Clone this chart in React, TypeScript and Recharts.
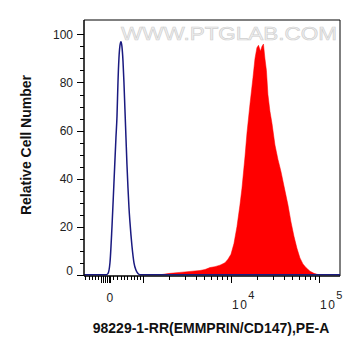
import React from 'react';
import { ComposedChart, Line, Area, XAxis, YAxis, Label, ReferenceArea } from 'recharts';

// x values are in display units of the biexponential axis (decades: 3 = 10^3, 4 = 10^4, 5 = 10^5)
const blueX = [2.33, 2.58, 2.602, 2.625, 2.648, 2.67, 2.693, 2.705, 2.716, 2.727, 2.739, 2.75, 2.761, 2.773, 2.784, 2.795, 2.807, 2.818, 2.83, 2.841, 2.852, 2.875, 2.898, 2.92, 2.943, 2.966, 5.239];
const blueY = [0, 0, 0.5, 5, 20, 38, 57, 66, 80, 90, 95.5, 97, 95, 89, 80, 69, 57, 46, 36, 28, 22, 12, 5, 2, 0.5, 0, 0];

const redX = [3.193, 3.25, 3.307, 3.42, 3.534, 3.648, 3.705, 3.761, 3.818, 3.875, 3.932, 3.966, 4.0, 4.034, 4.068, 4.102, 4.125, 4.159, 4.182, 4.216, 4.25, 4.273, 4.295, 4.313, 4.335, 4.352, 4.369, 4.386, 4.403, 4.42, 4.443, 4.466, 4.5, 4.534, 4.568, 4.602, 4.648, 4.682, 4.716, 4.75, 4.784, 4.818, 4.852, 4.898, 4.943, 4.989, 5.034];
const redY = [0, 0.3, 0.6, 1.0, 1.4, 1.8, 2.2, 3.0, 3.4, 4.0, 5.0, 6.5, 8.5, 13, 20, 29, 36, 49, 59, 71, 82, 90, 94.5, 95.5, 93, 95, 96, 90, 85, 75, 68, 63, 54, 48, 43, 37, 29, 22, 16, 11, 7, 4.5, 3, 1.5, 0.6, 0.1, 0];

const xMajorTicks = [3, 4, 5];
const xMajorExponents = ['', '4', '5'];
const xZeroTick = 2.625;
const xZeroLabel = '0';
const xClusterTicks = [2.523, 2.545, 2.568, 2.591, 2.614];
const xMinorTicks = [2.341, 2.386, 2.42, 2.455, 2.489, 2.659, 2.705, 2.75, 2.784, 2.818, 2.864, 2.898, 2.932, 2.966,
  3.301, 3.477, 3.602, 3.699, 3.778, 3.845, 3.903, 3.954,
  4.301, 4.477, 4.602, 4.699, 4.778, 4.845, 4.903, 4.954];
const xDomain = [2.33, 5.239];

const yTicks = [0, 5, 10, 15, 20, 25, 30, 35, 40, 45, 50, 55, 60, 65, 70, 75, 80, 85, 90, 95, 100];
const yMajorTicks = [0, 20, 40, 60, 80, 100];
const yDomain = [-0.5, 106];

const xTitle = '98229-1-RR(EMMPRIN/CD147),PE-A';
const yTitle = 'Relative Cell Number';
const watermark = 'WWW.PTGLAB.COM';

const blueData = blueX.map((x, i) => ({ x, y: blueY[i] }));
const redData = redX.map((x, i) => ({ x, y: redY[i] }));
const allXTicks = [...xMinorTicks, ...xClusterTicks, xZeroTick, ...xMajorTicks].sort((a, b) => a - b);

const FONT = '"Liberation Sans", Arial, sans-serif';

function XTick(props: any) {
  const { x, y, payload } = props;
  const v = payload.value;
  const mi = xMajorTicks.indexOf(v);
  const long = mi >= 0 || xClusterTicks.includes(v) || v === xZeroTick;
  const len = long ? 7 : 4;
  const lx = Math.round(x) + 0.5;
  return (
    <g>
      <line x1={lx} x2={lx} y1={y} y2={y + len} stroke="#000" strokeWidth={1} />
      {v === xZeroTick && (
        <text x={x} y={y + 26} textAnchor="middle" fontFamily={FONT} fontSize={12} fill="#222">{xZeroLabel}</text>
      )}
      {mi >= 0 && xMajorExponents[mi] !== '' && (
        <text x={x + 1} y={y + 32.5} textAnchor="start" fontFamily={FONT} fontSize={12} letterSpacing={1.5} fill="#222">
          10
          <tspan dx={0} dy={-10} fontSize={11}>{xMajorExponents[mi]}</tspan>
        </text>
      )}
    </g>
  );
}

function YTick(props: any) {
  const { x, y, payload } = props;
  const v = payload.value;
  const major = yMajorTicks.includes(v);
  const len = major ? 7 : 4;
  const ly = Math.round(y) + 0.5;
  return (
    <g>
      <line x1={x - len} x2={x} y1={ly} y2={ly} stroke="#000" strokeWidth={1} />
      {major && (
        <text x={x - 11} y={v === 0 ? y - 4 : y} dy="0.35em" textAnchor="end" fontFamily={FONT} fontSize={12} fill="#222">{v}</text>
      )}
    </g>
  );
}

const XTitle = () => (
  <text x={211} y={333} textAnchor="middle" fontFamily={FONT} fontSize={14} fontWeight="bold" fill="#111">{xTitle}</text>
);
const YTitle = () => (
  <text x={31} y={145} transform="rotate(-90 31 145)" textAnchor="middle" fontFamily={FONT} fontSize={14} fontWeight="bold" fill="#111">{yTitle}</text>
);
const Watermark = () => (
  <text x={121} y={40} textLength={216} lengthAdjust="spacingAndGlyphs" fontFamily={FONT} fontSize={18} fill="#f0f0f0" stroke="#cfcfcf" strokeWidth={0.6}>{watermark}</text>
);

export default function App() {
  return (
    <div style={{ position: 'absolute', left: 0, top: 0, background: '#fff' }}>
      <ComposedChart width={361} height={356} margin={{ top: 20, right: 21, bottom: 40, left: 0 }}>
        <XAxis
          xAxisId="main"
          type="number"
          dataKey="x"
          domain={xDomain}
          allowDataOverflow
          ticks={allXTicks}
          interval={0}
          tick={<XTick />}
          tickLine={false}
          tickSize={0}
          tickMargin={0}
          height={40}
          axisLine={{ stroke: '#000' }}
        >
          <Label content={<XTitle />} />
        </XAxis>
        <YAxis
          yAxisId="main"
          type="number"
          domain={yDomain}
          allowDataOverflow
          ticks={yTicks}
          interval={0}
          tick={<YTick />}
          tickLine={false}
          tickSize={0}
          tickMargin={0}
          width={84}
          axisLine={{ stroke: '#000' }}
        >
          <Label content={<YTitle />} />
        </YAxis>
        <ReferenceArea
          xAxisId="main"
          yAxisId="main"
          x1={xDomain[0]}
          x2={xDomain[1]}
          y1={yDomain[0]}
          y2={yDomain[1]}
          fill="none"
          fillOpacity={0}
          stroke="#000"
          strokeWidth={1}
          ifOverflow="visible"
          label={<Watermark />}
        />
        <Line
          xAxisId="main"
          yAxisId="main"
          data={blueData}
          dataKey="y"
          type="monotone"
          stroke="#1a1a80"
          strokeWidth={1.5}
          dot={false}
          isAnimationActive={false}
        />
        <Area
          xAxisId="main"
          yAxisId="main"
          data={redData}
          dataKey="y"
          type="linear"
          stroke="#ff0000"
          strokeWidth={0.5}
          fill="#ff0000"
          fillOpacity={1}
          isAnimationActive={false}
        />
      </ComposedChart>
    </div>
  );
}
